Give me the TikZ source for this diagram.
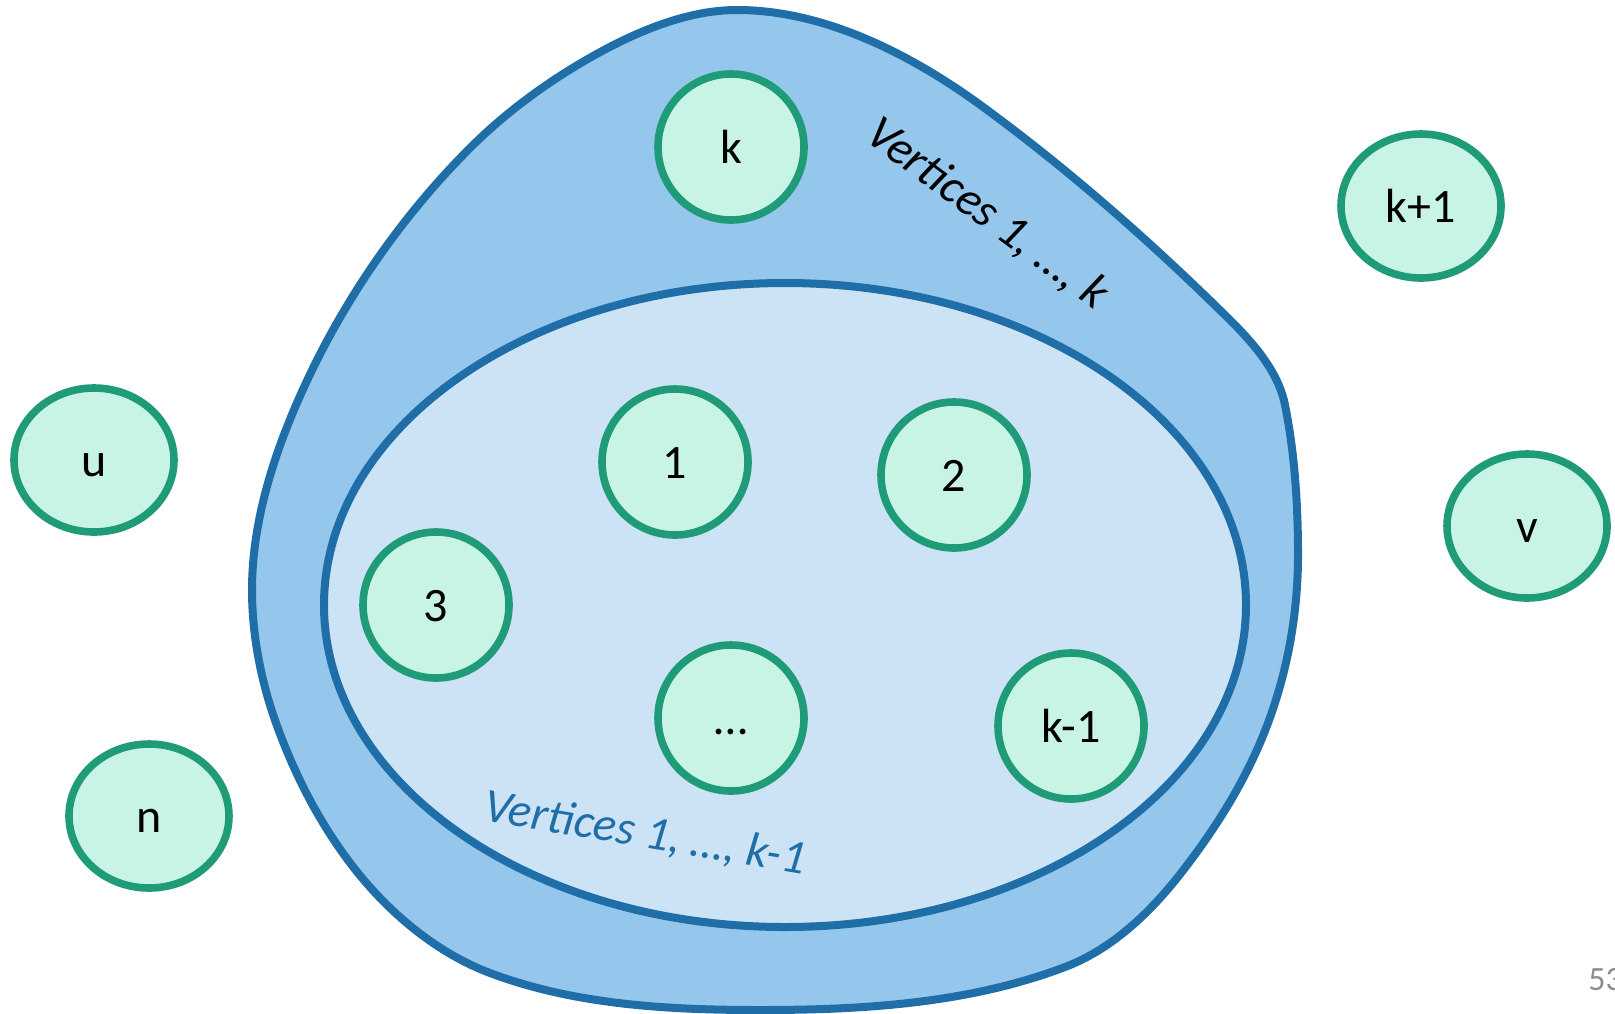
\documentclass[tikz,border=0pt]{standalone}
\usepackage{fontspec}
\setmainfont{Carlito}
\usetikzlibrary{shapes.geometric}
\definecolor{setedge}{HTML}{1F6EA8}
\definecolor{outerfill}{HTML}{95C7EC}
\definecolor{innerfill}{HTML}{CBE3F4}
\definecolor{vedge}{HTML}{1F9C77}
\definecolor{vfill}{HTML}{C8F4E6}
\definecolor{pagegray}{HTML}{8C8C8C}
\begin{document}
\begin{tikzpicture}[x=0.5pt,y=-0.5pt,
  setline/.style={draw=setedge,line width=4pt},
  vtext/.style={font=\fontsize{24}{28}\selectfont,text height=16.5pt,text depth=0pt},
  vertex/.style={circle,draw=vedge,fill=vfill,line width=3.8pt,inner sep=0pt,
    minimum size=73pt,vtext},
  outvertex/.style={ellipse,draw=vedge,fill=vfill,line width=3.8pt,inner sep=0pt,
    minimum width=80pt,minimum height=72pt,vtext},
  setlabel/.style={font=\fontsize{24}{28}\selectfont\itshape}]
\useasboundingbox (0,0) rectangle (1615,1013);

% outer set: vertices 1..k
\draw[setline,fill=outerfill]
  (737,10) .. controls (823,10) and (908.5,53) .. (979,104)
  .. controls (1067,168) and (1150.6,241.7) .. (1228,318)
  .. controls (1252.8,342.5) and (1278,370.7) .. (1285,405)
  .. controls (1294.8,454) and (1298,505) .. (1298,555)
  .. controls (1298,612) and (1288,669.4) .. (1268,723)
  .. controls (1247.7,777.5) and (1216.7,827.2) .. (1181,873)
  .. controls (1150.3,912.5) and (1111.8,949.3) .. (1065,967)
  .. controls (968.7,1003.6) and (863,1010) .. (760,1010)
  .. controls (669,1010) and (575.2,1005) .. (490,973)
  .. controls (438.5,953.6) and (392.7,915.9) .. (358,873)
  .. controls (322.1,828.5) and (295.2,776.6) .. (276,723)
  .. controls (260.9,680.7) and (252,635) .. (252,590)
  .. controls (252,519.4) and (275.3,449.2) .. (305,385)
  .. controls (345.3,297.6) and (402.1,215.9) .. (470,148)
  .. controls (508.9,109.1) and (555.6,75.9) .. (604,50)
  .. controls (644.5,28.4) and (691,10) .. (737,10) -- cycle;

% inner set: vertices 1..k-1
\node[setline,fill=innerfill,ellipse,minimum width=461pt,minimum height=322pt,
  inner sep=0pt] (inner) at (785,605) {};

\node[setlabel,rotate=-36.5] (outerlabel) at (987,214) {Vertices 1, …, k};
\node[setlabel,text=setedge,rotate=-9.5] (innerlabel) at (645,834) {Vertices 1, …, k-1};

% vertices inside the sets
\node[vertex] (vk) at (731,147) {k};
\node[vertex] (v1) at (675,462) {1};
\node[vertex] (v2) at (954,475) {2};
\node[vertex] (v3) at (436,605) {3};
\node[vertex] (vdots) at (731,718) {…};
\node[vertex] (vkm) at (1071,726) {k-1};

% vertices outside
\node[outvertex] (vu) at (94,460) {u};
\node[outvertex] (vn) at (149,816) {n};
\node[outvertex] (vkp) at (1421,206) {k+1};
\node[outvertex] (vv) at (1527,526) {v};

% page number
\node[anchor=west,text=pagegray,inner sep=0pt,font=\fontsize{17}{20}\selectfont]
  (pagenum) at (1588,980) {53};
\end{tikzpicture}
\end{document}
